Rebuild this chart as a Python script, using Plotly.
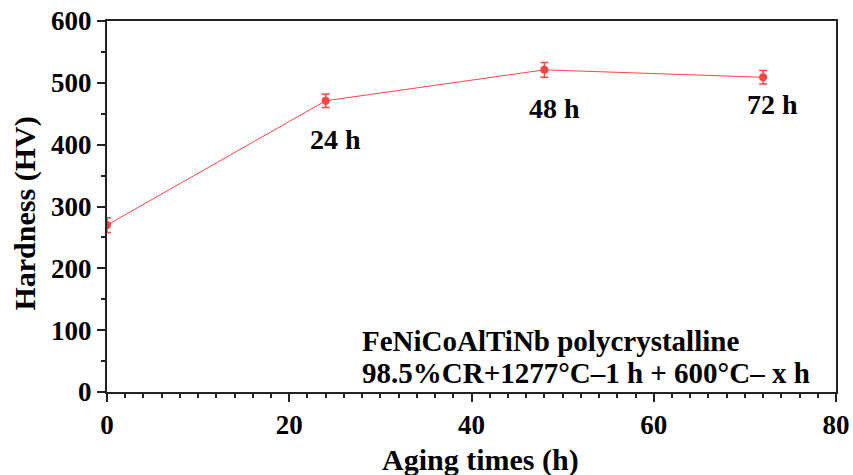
import plotly.graph_objects as go

aging_h = [0, 24, 48, 72]
hardness = [270, 471, 521, 509]
err = [12, 11, 12, 11]
labels = ["24 h", "48 h", "72 h"]
label_x = [25.1, 49.1, 73.0]
label_y = [409, 458, 465]

FONT = "Liberation Serif"
RED = "#ff4444"

fig = go.Figure()
fig.add_trace(go.Scatter(
    x=aging_h, y=hardness, mode="lines+markers",
    line=dict(color=RED, width=1),
    marker=dict(color=RED, size=8, symbol="circle"),
    error_y=dict(type="data", array=err, color=RED, thickness=1.5, width=4),
    showlegend=False,
))

for t, x, y in zip(labels, label_x, label_y):
    fig.add_annotation(x=x, y=y, text="<b>%s</b>" % t, showarrow=False,
                       font=dict(family=FONT, size=28, color="black"))

fig.add_annotation(xref="paper", yref="paper", x=0.347, y=0.137, xanchor="left", yanchor="middle",
                   text="<b>FeNiCoAlTiNb polycrystalline</b>", showarrow=False,
                   font=dict(family=FONT, size=29, color="black"))
fig.add_annotation(xref="paper", yref="paper", x=0.347, y=0.050, xanchor="left", yanchor="middle",
                   text="<b>98.5%CR+1277°C–1 h + 600°C– x h</b>", showarrow=False,
                   font=dict(family=FONT, size=29, color="black"))

# axis titles
fig.add_annotation(xref="paper", yref="paper", x=0.513, y=-0.183, xanchor="center", yanchor="middle",
                   text="<b>Aging times (h)</b>", showarrow=False,
                   font=dict(family=FONT, size=30, color="black"))
fig.add_annotation(xref="paper", yref="paper", x=-0.113, y=0.48, xanchor="center", yanchor="middle",
                   text="<b>Hardness (HV)</b>", showarrow=False, textangle=-90,
                   font=dict(family=FONT, size=30, color="black"))

axis_common = dict(
    showgrid=False, zeroline=False, showline=True, linecolor="#222", linewidth=2,
    mirror=True, ticks="outside", tickcolor="#222", tickwidth=2, ticklen=8,
    tickfont=dict(family=FONT, size=27, color="black"), automargin=False,
)
fig.update_xaxes(range=[0, 80], dtick=20, tick0=0,
                 minor=dict(dtick=2, ticks="outside", ticklen=4, tickcolor="#222", tickwidth=1.5),
                 **axis_common)
fig.update_yaxes(range=[0, 600], dtick=100, tick0=0,
                 minor=dict(dtick=50, ticks="outside", ticklen=4, tickcolor="#222", tickwidth=1.5),
                 **axis_common)
fig.update_xaxes(tickprefix="<b>", ticksuffix="</b>")
fig.update_yaxes(tickprefix="<b>", ticksuffix="</b>")

fig.update_layout(width=853, height=475, margin=dict(l=107, r=17, t=21, b=83),
                  plot_bgcolor="white", paper_bgcolor="white")
fig.write_html("out.html")
